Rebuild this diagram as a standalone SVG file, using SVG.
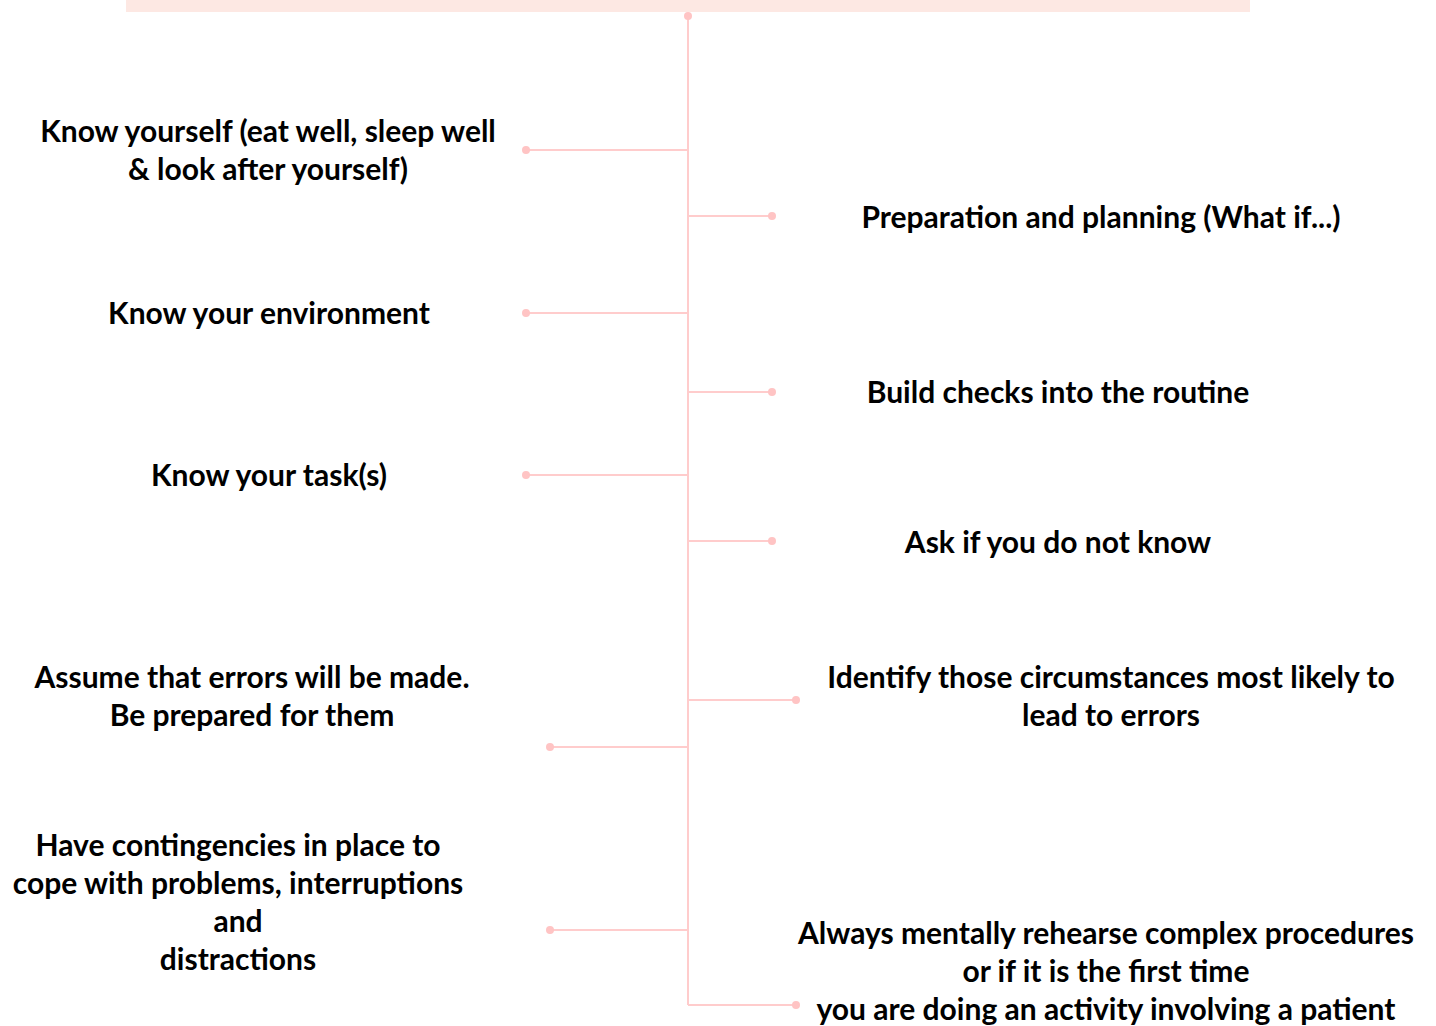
<svg xmlns="http://www.w3.org/2000/svg" width="1436" height="1026" viewBox="0 0 1436 1026">
<style>
.t{font-family:Lato,"Open Sans","Liberation Sans",sans-serif;font-weight:700;font-size:30px;fill:#000;text-anchor:middle}
.c{stroke:#ffcccc;stroke-width:2;fill:none}
.d{fill:#ffc4c4}
</style>
<rect x="126" y="0" width="1124" height="12" fill="#fde8e3"/>
<g id="connectors">
<line class="c" x1="688" y1="16" x2="688" y2="1005"/>
<circle class="d" cx="688" cy="16" r="4"/>
<polyline class="c" points="688,150 526,150"/><circle class="d" cx="526" cy="150" r="4"/>
<polyline class="c" points="688,313 526,313"/><circle class="d" cx="526" cy="313" r="4"/>
<polyline class="c" points="688,475 526,475"/><circle class="d" cx="526" cy="475" r="4"/>
<polyline class="c" points="688,747 550,747"/><circle class="d" cx="550" cy="747" r="4"/>
<polyline class="c" points="688,930 550,930"/><circle class="d" cx="550" cy="930" r="4"/>
<polyline class="c" points="688,216 772,216"/><circle class="d" cx="772" cy="216" r="4"/>
<polyline class="c" points="688,392 772,392"/><circle class="d" cx="772" cy="392" r="4"/>
<polyline class="c" points="688,541 772,541"/><circle class="d" cx="772" cy="541" r="4"/>
<polyline class="c" points="688,700 796,700"/><circle class="d" cx="796" cy="700" r="4"/>
<polyline class="c" points="688,1005 796,1005"/><circle class="d" cx="796" cy="1005" r="4"/>
</g>
<g id="n1"><text class="t" x="268" y="142">Know yourself (eat well, sleep well</text><text class="t" x="268" y="180">&amp; look after yourself)</text></g>
<g id="n2"><text class="t" x="269" y="324">Know your environment</text></g>
<g id="n3"><text class="t" x="269" y="486">Know your task(s)</text></g>
<g id="n4"><text class="t" x="252" y="688">Assume that errors will be made.</text><text class="t" x="252" y="726">Be prepared for them</text></g>
<g id="n5"><text class="t" x="238" y="856">Have contingencies in place to</text><text class="t" x="238" y="894">cope with problems, interruptions</text><text class="t" x="238" y="932">and</text><text class="t" x="238" y="970">distractions</text></g>
<g id="n6"><text class="t" x="1101" y="228">Preparation and planning (What if...)</text></g>
<g id="n7"><text class="t" x="1058" y="403">Build checks into the routine</text></g>
<g id="n8"><text class="t" x="1058" y="553">Ask if you do not know</text></g>
<g id="n9"><text class="t" x="1111" y="688">Identify those circumstances most likely to</text><text class="t" x="1111" y="726">lead to errors</text></g>
<g id="n10"><text class="t" x="1106" y="944">Always mentally rehearse complex procedures</text><text class="t" x="1106" y="982">or if it is the first time</text><text class="t" x="1106" y="1020">you are doing an activity involving a patient</text></g>
</svg>
